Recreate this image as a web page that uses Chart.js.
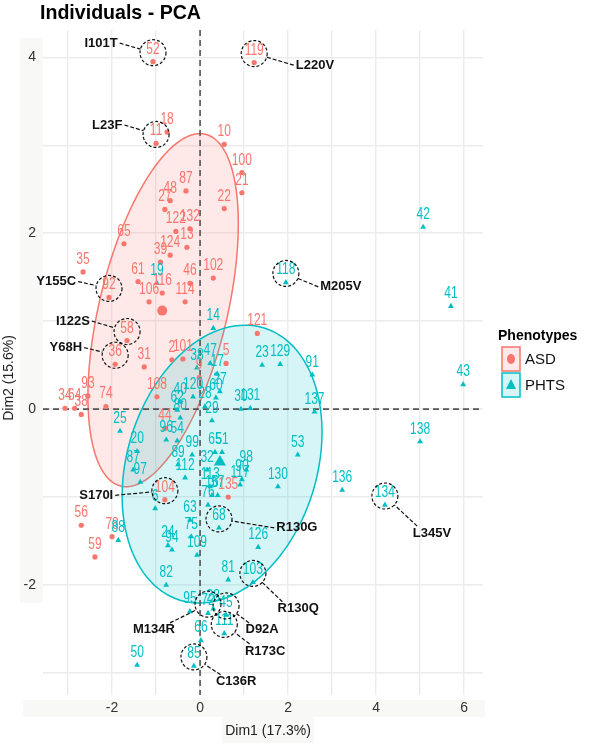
<!DOCTYPE html>
<html>
<head>
<meta charset="utf-8">
<script src="https://cdn.jsdelivr.net/npm/chart.js@4.4.1/dist/chart.umd.min.js"></script>
<style>
  html, body { margin: 0; padding: 0; background: #fff; }
  canvas { display: block; }
</style>
</head>
<body>
<canvas id="canvas" width="600" height="743"></canvas>
<script>

// ASD individuals (Dim1, Dim2)
let asdIds = ['52','119','11','18','10','100','21','22','87','48','27','122','132','13','124','39','65','35','61','106','116','114','46','102','92','58','36','31','2','101','5','121','108','44','93','74','34','64','38','104','56','78','59','135','9'];
let asdX = [-1.07,1.23,-1.00,-0.75,0.55,0.95,0.95,0.55,-0.32,-0.68,-0.80,-0.55,-0.23,-0.30,-0.68,-0.90,-1.73,-2.66,-1.41,-1.16,-0.86,-0.34,-0.23,0.30,-2.07,-1.66,-1.93,-1.27,-0.64,-0.39,0.59,1.30,-0.98,-0.80,-2.55,-2.14,-3.07,-2.85,-2.70,-0.80,-2.70,-2.00,-2.39,0.64,-0.02];
let asdY = [3.95,3.94,3.02,3.15,3.01,2.69,2.46,2.28,2.48,2.37,2.27,2.02,2.05,1.84,1.75,1.67,1.88,1.56,1.45,1.22,1.32,1.22,1.43,1.49,1.27,0.78,0.51,0.48,0.56,0.57,0.52,0.86,0.14,-0.22,0.15,0.03,0.01,0.01,-0.06,-1.03,-1.32,-1.45,-1.68,-1.00,0.36];

// PHTS individuals (Dim1, Dim2)
let phtsIds = ['14','38','47','17','27','60','40','120','62','28','80','29','30','131','137','91','23','129','25','20','87','97','96','54','89','99','19','112','32','113','117','98','90','16','76','57','6','65','51','63','75','109','24','94','82','68','126','81','103','130','53','136','134','138','43','41','42','118','95','72','28','45','111','66','85','50','88'];
let phtsX = [0.30,-0.07,0.23,0.39,0.45,0.36,-0.45,-0.16,-0.52,0.11,-0.45,0.27,0.93,1.14,2.60,2.55,1.41,1.82,-1.82,-1.43,-1.52,-1.36,-0.77,-0.52,-0.50,-0.18,-0.98,-0.34,0.16,0.23,0.91,1.05,0.95,0.27,0.18,0.40,-1.02,0.34,0.50,-0.23,-0.20,-0.07,-0.73,-0.64,-0.77,0.43,1.32,0.64,1.20,1.77,2.22,3.23,4.20,5.00,5.98,5.70,5.07,1.95,-0.23,0.18,0.30,0.59,0.55,0.02,-0.14,-1.43,-1.86];
let phtsY = [0.92,0.47,0.52,0.40,0.20,0.13,0.08,0.14,-0.01,0.03,-0.10,-0.13,0.00,0.01,-0.03,0.39,0.50,0.51,-0.25,-0.48,-0.69,-0.83,-0.35,-0.36,-0.63,-0.52,1.43,-0.78,-0.69,-0.88,-0.86,-0.69,-0.80,-0.98,-1.09,-0.98,-1.13,-0.49,-0.49,-1.26,-1.45,-1.66,-1.55,-1.60,-2.00,-1.35,-1.57,-1.94,-1.97,-0.88,-0.52,-0.92,-1.09,-0.37,0.28,1.17,2.07,1.44,-2.30,-2.32,-2.27,-2.34,-2.55,-2.63,-2.92,-2.91,-1.49];

// group centres (large markers)
let meanX = [-0.86, 0.45];
let meanY = [1.12, -0.60];

// confidence ellipses: centre and two half-axis vectors, in Dim units
let ellCx = [-0.84, 0.50];
let ellCy = [1.125, -0.625];
let ellU = [[0.96, 2.00], [0.957, 1.547]];
let ellV = [[1.414, -0.17], [2.06, -0.319]];

// highlighted variants: text, point label, group, label position (Dim units)
let annoText  = ['I101T','L220V','L23F','Y155C','I122S','Y68H','M205V','S170I','R130G','L345V','R130Q','M134R','D92A','R173C','C136R'];
let annoPoint = ['52','119','11','92','58','36','118','104','68','134','103','72','45','111','85'];
let annoGroup = ['ASD','ASD','ASD','ASD','ASD','ASD','PHTS','ASD','PHTS','PHTS','PHTS','PHTS','PHTS','PHTS','PHTS'];
let annoX = [-2.25,2.61,-2.11,-3.27,-2.89,-3.05,3.20,-2.36,2.20,5.27,2.23,-1.05,1.41,1.48,0.82];
let annoY = [4.16,3.91,3.23,1.45,1.00,0.70,1.39,-0.98,-1.35,-1.41,-2.27,-2.51,-2.51,-2.75,-3.10];

let xTicks = [-2, 0, 2, 4, 6];
let yTicks = [-2, 0, 2, 4];

let red = '#F8766D';
let teal = '#00BFC4';

function pts(xs, ys) {
  let out = [];
  for (let i = 0; i < xs.length; i++) out.push({x: xs[i], y: ys[i]});
  return out;
}

let pcaPlugin = {
  id: 'pca',
  beforeDraw(chart) {
    let ctx = chart.ctx;
    ctx.save();
    ctx.fillStyle = '#f8f8f6';
    ctx.fillRect(20, 38, 23, 565);
    ctx.fillRect(23, 700, 462, 17);
    ctx.fillRect(222, 717, 92, 26);
    ctx.restore();
  },
  beforeDatasetsDraw(chart) {
    let ctx = chart.ctx;
    let xs = chart.scales.x, ys = chart.scales.y;
    let ca = chart.chartArea;
    ctx.save();
    ctx.beginPath();
    ctx.rect(ca.left, ca.top, ca.right - ca.left, ca.bottom - ca.top);
    ctx.clip();
    let fills = ['rgba(248,118,109,0.16)', 'rgba(0,191,196,0.16)'];
    let lines = [red, teal];
    for (let e = 0; e < 2; e++) {
      ctx.beginPath();
      for (let k = 0; k <= 120; k++) {
        let t = k / 120 * Math.PI * 2;
        let dx = ellCx[e] + ellU[e][0] * Math.cos(t) + ellV[e][0] * Math.sin(t);
        let dy = ellCy[e] + ellU[e][1] * Math.cos(t) + ellV[e][1] * Math.sin(t);
        let px = xs.getPixelForValue(dx), py = ys.getPixelForValue(dy);
        if (k === 0) ctx.moveTo(px, py); else ctx.lineTo(px, py);
      }
      ctx.closePath();
      ctx.fillStyle = fills[e];
      ctx.fill();
      ctx.strokeStyle = lines[e];
      ctx.lineWidth = 1.5;
      ctx.stroke();
    }
    // dashed zero lines
    ctx.strokeStyle = '#555';
    ctx.lineWidth = 1.6;
    ctx.setLineDash([6, 4]);
    let x0 = xs.getPixelForValue(0), y0 = ys.getPixelForValue(0);
    ctx.beginPath();
    ctx.moveTo(x0, ca.top); ctx.lineTo(x0, ca.bottom);
    ctx.moveTo(ca.left, y0); ctx.lineTo(ca.right, y0);
    ctx.stroke();
    ctx.restore();
  },
  afterDatasetsDraw(chart) {
    let ctx = chart.ctx;
    let xs = chart.scales.x, ys = chart.scales.y;
    ctx.save();
    ctx.font = '16px "Liberation Sans", Arial, sans-serif';
    ctx.textAlign = 'center';
    ctx.textBaseline = 'alphabetic';
    let groups = [[asdIds, asdX, asdY, red], [phtsIds, phtsX, phtsY, teal]];
    let lookup = {};
    for (let g of groups) {
      ctx.fillStyle = g[3];
      for (let i = 0; i < g[0].length; i++) {
        let px = xs.getPixelForValue(g[1][i]);
        let py = ys.getPixelForValue(g[2][i]);
        let w = ctx.measureText(g[0][i]).width * 0.75;
        ctx.fillText(g[0][i], px, py - 8, w);
        lookup[(g === groups[0] ? 'ASD' : 'PHTS') + g[0][i]] = [px, py];
      }
    }
    // annotations
    ctx.font = 'bold 13px "Liberation Sans", Arial, sans-serif';
    ctx.textBaseline = 'middle';
    ctx.strokeStyle = '#111';
    ctx.lineWidth = 1.2;
    for (let a = 0; a < annoText.length; a++) {
      let p = lookup[annoGroup[a] + annoPoint[a]];
      if (!p) continue;
      let cx = p[0], cy = p[1] - 9, r = 13;
      ctx.setLineDash([3, 2]);
      ctx.beginPath();
      ctx.arc(cx, cy, r, 0, Math.PI * 2);
      ctx.stroke();
      let lx = xs.getPixelForValue(annoX[a]);
      let ly = ys.getPixelForValue(annoY[a]);
      ctx.fillStyle = '#111';
      ctx.fillText(annoText[a], lx, ly);
      let hw = ctx.measureText(annoText[a]).width / 2 + 2, hh = 7;
      let dx = cx - lx, dy = cy - ly;
      let sx, sy;
      if (Math.abs(dx) > 2.5 * Math.abs(dy)) {
        sx = lx + Math.sign(dx) * hw; sy = ly;
      } else {
        sx = lx + Math.sign(dx) * hw * 0.7; sy = ly + Math.sign(dy) * hh;
      }
      let len = Math.hypot(cx - sx, cy - sy);
      let ex = cx - (cx - sx) / len * r, ey = cy - (cy - sy) / len * r;
      ctx.setLineDash([4, 2]);
      ctx.beginPath();
      ctx.moveTo(sx, sy); ctx.lineTo(ex, ey);
      ctx.stroke();
    }
    ctx.restore();
  },
  afterDraw(chart) {
    let ctx = chart.ctx;
    ctx.save();
    // title
    ctx.fillStyle = '#000';
    ctx.font = 'bold 21px "Liberation Sans", Arial, sans-serif';
    ctx.textAlign = 'left';
    ctx.textBaseline = 'alphabetic';
    ctx.fillText('Individuals - PCA', 40, 19, 161);
    // axis titles
    ctx.fillStyle = '#222';
    ctx.font = '14px "Liberation Sans", Arial, sans-serif';
    ctx.textAlign = 'center';
    ctx.textBaseline = 'middle';
    ctx.fillText('Dim1 (17.3%)', 268, 731);
    ctx.translate(9, 378);
    ctx.rotate(-Math.PI / 2);
    ctx.fillText('Dim2 (15.6%)', 0, 0);
    ctx.restore();

    // legend
    ctx.save();
    ctx.fillStyle = '#000';
    ctx.font = 'bold 14px "Liberation Sans", Arial, sans-serif';
    ctx.textBaseline = 'middle';
    ctx.textAlign = 'left';
    ctx.fillText('Phenotypes', 498, 336);
    let keys = [['ASD', red, 'rgba(248,118,109,0.16)', 347], ['PHTS', teal, 'rgba(0,191,196,0.16)', 373]];
    for (let k of keys) {
      ctx.fillStyle = k[2];
      ctx.fillRect(502, k[3], 18, 24);
      ctx.strokeStyle = k[1];
      ctx.lineWidth = 1.5;
      ctx.strokeRect(502, k[3], 18, 24);
      ctx.fillStyle = k[1];
      ctx.beginPath();
      if (k[0] === 'ASD') {
        ctx.ellipse(511, k[3] + 12, 4, 5, 0, 0, Math.PI * 2);
      } else {
        ctx.moveTo(511, k[3] + 6);
        ctx.lineTo(516, k[3] + 16);
        ctx.lineTo(506, k[3] + 16);
        ctx.closePath();
      }
      ctx.fill();
      ctx.fillStyle = '#111';
      ctx.font = '15px "Liberation Sans", Arial, sans-serif';
      ctx.fillText(k[0], 525, k[3] + 13);
    }
    ctx.restore();
  }
};

let options = {
  type: 'scatter',
  data: {
    datasets: [
      {
        label: 'ASD',
        data: pts(asdX, asdY),
        pointStyle: 'circle',
        pointRadius: 2.6,
        backgroundColor: red,
        borderColor: red,
        borderWidth: 0
      },
      {
        label: 'PHTS',
        data: pts(phtsX, phtsY),
        pointStyle: 'triangle',
        pointRadius: 3.4,
        backgroundColor: teal,
        borderColor: teal,
        borderWidth: 0
      },
      {
        label: 'ASD mean',
        data: [{x: meanX[0], y: meanY[0]}],
        pointStyle: 'circle',
        pointRadius: 5,
        backgroundColor: red,
        borderWidth: 0
      },
      {
        label: 'PHTS mean',
        data: [{x: meanX[1], y: meanY[1]}],
        pointStyle: 'triangle',
        pointRadius: 7,
        backgroundColor: teal,
        borderWidth: 0
      }
    ]
  },
  options: {
    responsive: false,
    animation: false,
    layout: {
      padding: {top: 30, right: 117, left: 0, bottom: 0}
    },
    plugins: {
      legend: {display: false},
      title: {display: false},
      tooltip: {enabled: false}
    },
    scales: {
      x: {
        type: 'linear',
        min: -3.57,
        max: 6.43,
        afterFit: function(s) { s.height = 48; },
        afterBuildTicks: function(s) {
          let t = [];
          for (let v = -3; v <= 6; v++) t.push({value: v});
          s.ticks = t;
        },
        border: {display: false},
        grid: {color: '#ececec', lineWidth: 1.4, drawTicks: false},
        ticks: {
          padding: 5,
          color: '#333',
          font: {size: 14, family: '"Liberation Sans", Arial, sans-serif'},
          callback: function(v) { return xTicks.includes(v) ? String(v) : ''; }
        }
      },
      y: {
        type: 'linear',
        min: -3.25,
        max: 4.31,
        afterFit: function(s) { s.width = 43; },
        afterBuildTicks: function(s) {
          let t = [];
          for (let v = -3; v <= 4; v++) t.push({value: v});
          s.ticks = t;
        },
        border: {display: false},
        grid: {color: '#ececec', lineWidth: 1.4, drawTicks: false},
        ticks: {
          padding: 7,
          color: '#333',
          font: {size: 14, family: '"Liberation Sans", Arial, sans-serif'},
          callback: function(v) { return yTicks.includes(v) ? String(v) : ''; }
        }
      }
    }
  },
  plugins: [pcaPlugin]
};

let chart = new Chart(document.getElementById('canvas'), options);
</script>
</body>
</html>
